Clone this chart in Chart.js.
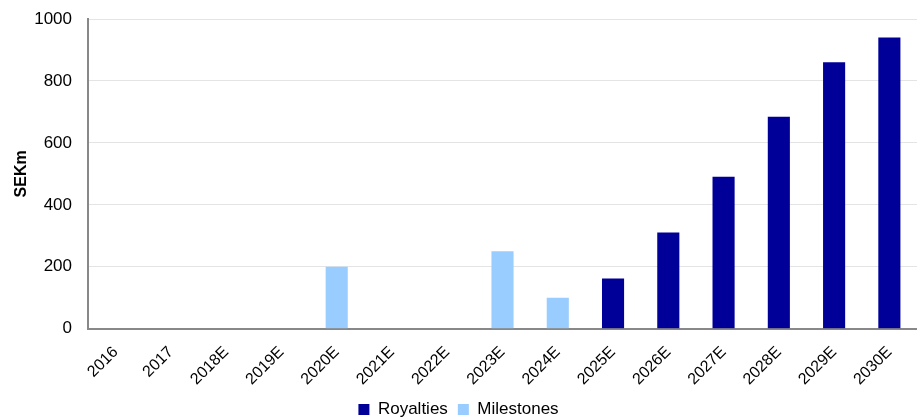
<!DOCTYPE html>
<html>
<head>
<meta charset="utf-8">
<script src="https://cdn.jsdelivr.net/npm/chart.js@4/dist/chart.umd.min.js"></script>
<style>
  html, body { margin: 0; padding: 0; background: #fff; }
  #wrap { width: 917px; height: 417px; }
</style>
</head>
<body>
<div id="wrap"><canvas id="revenueChart"></canvas></div>
<script>
const years = ['2016', '2017', '2018E', '2019E', '2020E', '2021E', '2022E', '2023E',
    '2024E', '2025E', '2026E', '2027E', '2028E', '2029E', '2030E'];
const royalties = [0, 0, 0, 0, 0, 0, 0, 0, 0, 162, 311, 491, 684, 860, 940];
const milestones = [0, 0, 0, 0, 200, 0, 0, 250, 100, 0, 0, 0, 0, 0, 0];
const yTicks = [0, 200, 400, 600, 800, 1000];

Chart.defaults.font.family = '"Liberation Sans", Arial, sans-serif';
Chart.defaults.color = '#000';

new Chart(document.getElementById('revenueChart'), {
    type: 'bar',
    data: {
        labels: years,
        datasets: [{
            label: 'Royalties',
            data: royalties,
            backgroundColor: '#000099',
            barPercentage: 0.4,
            categoryPercentage: 1
        }, {
            label: 'Milestones',
            data: milestones,
            backgroundColor: '#99ccff',
            barPercentage: 0.4,
            categoryPercentage: 1
        }]
    },
    options: {
        responsive: true,
        maintainAspectRatio: false,
        animation: false,
        layout: { padding: { top: 0, right: 0, left: 0, bottom: -11 } },
        plugins: {
            legend: {
                position: 'bottom',
                labels: { boxWidth: 11, boxHeight: 11, padding: 10, font: { size: 17 } }
            },
            tooltip: { enabled: false }
        },
        scales: {
            x: {
                stacked: true,
                grid: { display: false, drawTicks: false },
                border: { color: '#888', width: 2 },
                ticks: { minRotation: 45, maxRotation: 45, padding: 14, font: { size: 16 } },
                // padding is counted on both sides of the labels; drop most of the lower half
                afterFit: (scale) => { scale.height -= 12; }
            },
            y: {
                stacked: true,
                min: 0,
                max: 1000,
                afterBuildTicks: (axis) => { axis.ticks = yTicks.map(v => ({ value: v })); },
                afterFit: (scale) => { scale.paddingTop = 19; scale.paddingBottom = 0; },
                grid: { color: '#e4e4e4', drawTicks: false },
                border: { color: '#888', width: 2 },
                ticks: { padding: 16, font: { size: 17 }, callback: (v) => String(v) },
                // title sits close to the tick labels, so its box is squeezed
                title: {
                    display: true, text: 'SEKm',
                    font: { size: 16, weight: 'bold' },
                    padding: { top: 12, bottom: -13 }
                }
            }
        }
    }
});
</script>
</body>
</html>
